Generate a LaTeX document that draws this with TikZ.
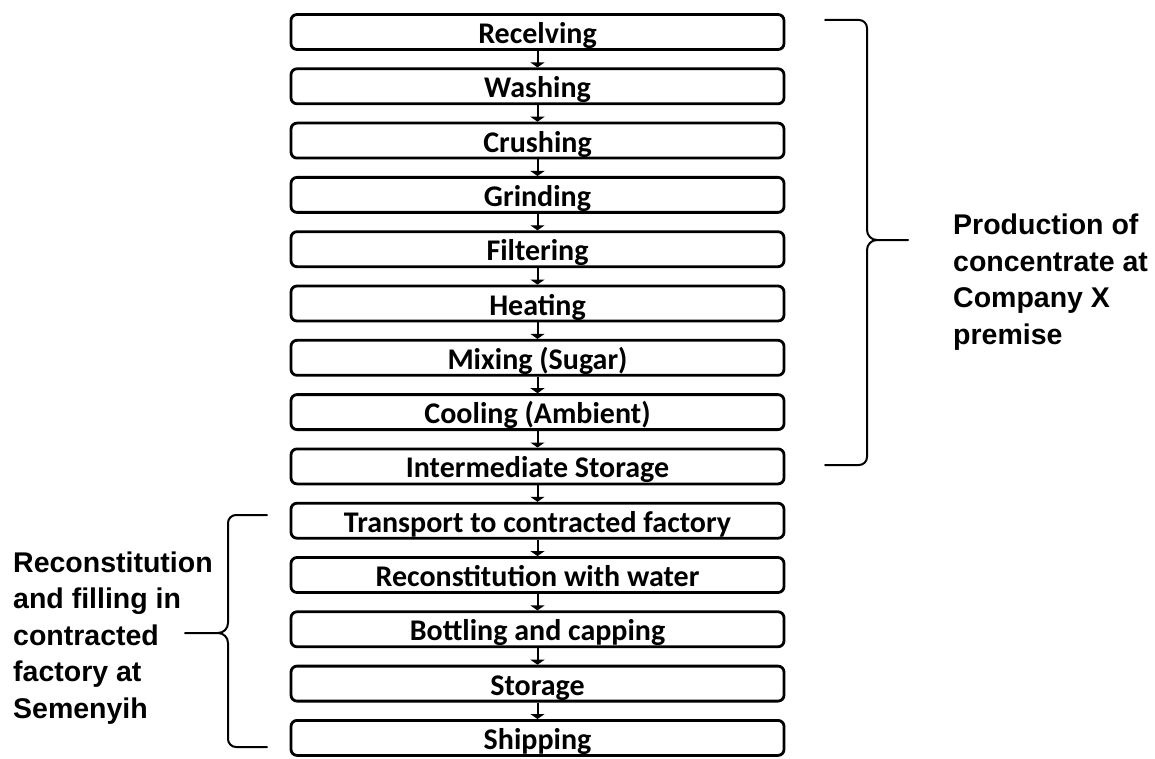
\documentclass[tikz,border=0pt]{standalone}
\usepackage{fontspec}
\newfontfamily\boxfont{Carlito}
\newfontfamily\sidefont{Liberation Sans}
\usetikzlibrary{arrows.meta}
\tikzset{
  stepbox/.style={draw=black, line width=2.8pt, rounded corners=6pt,
    minimum width=493pt, minimum height=35pt, inner sep=0pt,
    font=\boxfont\bfseries\fontsize{30}{32}\selectfont,
    text height=23pt, text depth=0pt},
  flow/.style={line width=2pt, -{Triangle[width=14pt,length=5pt]}},
  brace/.style={line width=2pt, line cap=round},
  sidetext/.style={align=left, inner sep=0pt,
    font=\sidefont\bfseries\fontsize{28.5}{36.5}\selectfont}
}
\begin{document}
\begin{tikzpicture}[x=1pt,y=-1pt]
\useasboundingbox (0,0) rectangle (1155,759);
\foreach \t [count=\i from 0] in {Recelving,Washing,Crushing,Grinding,Fi{}ltering,Heating,Mixing (Sugar),Cooling (Ambient),Intermediate Storage,Transport to contracted factory,Reconstitution with water,Bottling and capping,Storage,Shipping}{
  \node[stepbox] (s\i) at (537.5, 32+54.3*\i) {\t};
}
\foreach \i [evaluate=\i as \j using int(\i+1)] in {0,...,12}{
  \draw[flow] (s\i.south) -- (s\j.north);
}
% right brace
\coordinate (rt) at (825,20);
\coordinate (rb) at (825,465);
\coordinate (rtip) at (908,240);
\draw[brace] (rt) -- (859,20) to[out=0,in=90] (867,28) -- (867,230)
  to[out=-90,in=180] (877,240) -- (rtip);
\draw[brace] (877,240) to[out=180,in=90] (867,250) -- (867,457)
  to[out=-90,in=0] (859,465) -- (rb);
\node[sidetext, anchor=west] (prod) at (953,282) {Production of\\concentrate at\\Company X\\premise};
% left brace
\coordinate (lt) at (267,515);
\coordinate (lb) at (267,747);
\coordinate (ltip) at (185,633);
\draw[brace] (lt) -- (236,515) to[out=180,in=90] (228,523) -- (228,623)
  to[out=-90,in=0] (218,633) -- (ltip);
\draw[brace] (218,633) to[out=0,in=90] (228,643) -- (228,739)
  to[out=-90,in=180] (236,747) -- (lb);
\node[sidetext, anchor=west] (recon) at (13,638) {Reconstitution\\and filling in\\contracted\\factory at\\Semenyih};
\end{tikzpicture}
\end{document}
